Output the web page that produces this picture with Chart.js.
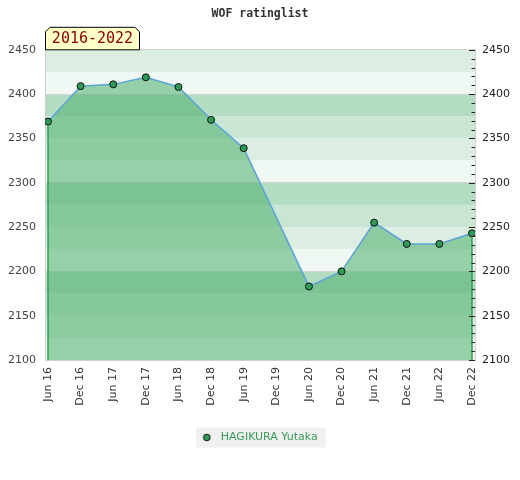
<!DOCTYPE html>
<html lang="en">
<head>
  <meta charset="UTF-8">
  <title>WOF ratinglist</title>
  <style>
    body {
      margin: 0;
      padding: 0;
      background-color: #fff;
    }

    .container {
      width: 520px;
      height: 480px;
    }
  </style>
  <script src="https://cdn.jsdelivr.net/npm/chart.js"></script>
</head>
<body>
  <div class="container">
    <canvas id="ratingChart"></canvas>
  </div>

  <script>
    // Rating list periods and values (Dec 19 has no rating)
    const periods = ['Jun 16', 'Dec 16', 'Jun 17', 'Dec 17', 'Jun 18', 'Dec 18', 'Jun 19',
                     'Dec 19', 'Jun 20', 'Dec 20', 'Jun 21', 'Dec 21', 'Jun 22', 'Dec 22'];
    const ratings = [2369, 2409, 2411, 2419, 2408, 2371, 2339,
                     null, 2183, 2200, 2255, 2231, 2231, 2243];
    const ratingRange = [2100, 2450];
    const playerName = 'HAGIKURA Yutaka';
    const periodLabel = '2016-2022';
    const chartTitle = 'WOF ratinglist';

    const bandColors = ['#b3dcc2', '#c8e6d3', '#dbeee1', '#eff8f2'];
    const tickFont = { family: 'DejaVu Sans', size: 11 };

    // small round marker for the legend (sits at the left of a 13px box)
    const legendDot = document.createElement('canvas');
    legendDot.width = 13;
    legendDot.height = 9;
    const dctx = legendDot.getContext('2d');
    dctx.beginPath();
    dctx.arc(4.5, 4.5, 3.3, 0, Math.PI * 2);
    dctx.fillStyle = '#2e9a58';
    dctx.fill();
    dctx.lineWidth = 1;
    dctx.strokeStyle = '#111';
    dctx.stroke();

    // striped background, legend box
    const backdrop = {
      id: 'backdrop',
      beforeDraw(chart) {
        const { ctx, chartArea: a, scales: { y } } = chart;
        ctx.save();
        for (let v = y.max; v > y.min; v -= 25) {
          const top = y.getPixelForValue(v);
          const bottom = y.getPixelForValue(v - 25);
          ctx.fillStyle = bandColors[(4 - (v / 25) % 4) % 4];
          ctx.fillRect(a.left, top, a.right - a.left, bottom - top);
        }
        const hb = chart.legend && chart.legend.legendHitBoxes[0];
        if (hb) {
          ctx.fillStyle = '#f0f0f0';
          ctx.fillRect(hb.left - 6, hb.top - 4.5, hb.width + 14, 20);
        }
        ctx.restore();
      },
      afterDatasetsDraw(chart) {
        const { ctx, chartArea: a, scales: { y } } = chart;
        const meta = chart.getDatasetMeta(0);
        const pts = meta.data.filter((p, i) => ratings[i] !== null);
        ctx.save();
        // vertical edges of the filled area
        ctx.strokeStyle = '#2ea050';
        ctx.lineWidth = 1.5;
        [pts[0], pts[pts.length - 1]].forEach(p => {
          ctx.beginPath();
          ctx.moveTo(p.x, p.y + 4);
          ctx.lineTo(p.x, a.bottom);
          ctx.stroke();
        });
        // minor ticks on the right side
        ctx.strokeStyle = '#222';
        ctx.lineWidth = 1;
        for (let v = y.min; v <= y.max; v += 10) {
          const py = Math.round(y.getPixelForValue(v)) + 0.5;
          const len = v % 50 === 0 ? 6 : 3.5;
          ctx.beginPath();
          ctx.moveTo(a.right - len, py);
          ctx.lineTo(a.right, py);
          ctx.stroke();
        }
        ctx.restore();
      },
      afterDraw(chart) {
        const { ctx, chartArea: a } = chart;
        const l = a.left, r = a.left + 95, t = a.top - 23, b = a.top, c = 5;
        ctx.save();
        ctx.beginPath();
        ctx.moveTo(l + 0.5, b);
        ctx.lineTo(l + 0.5, t + c);
        ctx.lineTo(l + c, t + 0.5);
        ctx.lineTo(r - c, t + 0.5);
        ctx.lineTo(r - 0.5, t + c);
        ctx.lineTo(r - 0.5, b);
        ctx.closePath();
        ctx.fillStyle = '#ffffc8';
        ctx.fill();
        ctx.strokeStyle = '#000';
        ctx.lineWidth = 1;
        ctx.stroke();
        ctx.fillStyle = '#8b0000';
        ctx.font = '15px "DejaVu Sans Mono"';
        ctx.textAlign = 'center';
        ctx.textBaseline = 'middle';
        ctx.fillText(periodLabel, (l + r) / 2, (t + b) / 2 + 1);
        ctx.restore();
      }
    };

    const ctx = document.getElementById('ratingChart').getContext('2d');

    new Chart(ctx, {
      type: 'line',
      data: {
        datasets: [{
          label: playerName,
          data: ratings.map((v, i) => ({ x: i, y: v })),
          spanGaps: true,
          tension: 0,
          borderColor: '#5ba3d9',
          borderWidth: 1.5,
          fill: 'start',
          backgroundColor: 'rgba(76, 175, 110, 0.55)',
          pointRadius: 3.5,
          pointBackgroundColor: '#2e9a58',
          pointBorderColor: '#111',
          pointBorderWidth: 1
        }]
      },
      options: {
        responsive: true,
        maintainAspectRatio: false,
        animation: false,
        layout: { padding: { left: 0, right: 0, top: 0, bottom: 27 } },
        scales: {
          x: {
            type: 'linear',
            min: -0.092,
            max: periods.length - 1 + 0.092,
            afterBuildTicks: s => { s.ticks = periods.map((_, i) => ({ value: i })); },
            ticks: {
              autoSkip: false,
              minRotation: 90,
              maxRotation: 90,
              padding: 7,
              color: '#333',
              font: tickFont,
              callback: v => periods[v]
            },
            grid: { display: false, drawTicks: false },
            border: { color: '#d0d0d0' },
            afterFit: s => { s.height = 62; }
          },
          y: {
            position: 'left',
            min: ratingRange[0],
            max: ratingRange[1],
            ticks: { stepSize: 50, padding: 9, color: '#444', font: tickFont, callback: v => String(v) },
            grid: {
              drawTicks: false,
              color: c => (c.tick.value % 100 === 0 || c.tick.value === ratingRange[1]) ? '#d4d4d4' : 'transparent'
            },
            border: { color: '#d0d0d0' },
            afterFit: s => { s.width = 45; }
          },
          y2: {
            position: 'right',
            min: ratingRange[0],
            max: ratingRange[1],
            ticks: { stepSize: 50, padding: 7, color: '#222', font: tickFont, callback: v => String(v) },
            grid: { display: false, drawTicks: false },
            border: { color: '#d0d0d0' },
            afterFit: s => { s.width = 45; }
          }
        },
        plugins: {
          title: {
            display: true,
            text: chartTitle,
            color: '#333',
            font: { family: 'DejaVu Sans Mono', size: 11.5, weight: 'bold' },
            padding: { top: 7, bottom: 29 }
          },
          legend: {
            display: true,
            position: 'bottom',
            labels: {
              usePointStyle: true,
              pointStyleWidth: 13,
              color: '#3a9a5a',
              font: tickFont,
              generateLabels: () => [{
                text: playerName,
                pointStyle: legendDot,
                fontColor: '#3a9a5a',
                fillStyle: '#2e9a58',
                strokeStyle: '#111',
                lineWidth: 1,
                hidden: false,
                datasetIndex: 0
              }]
            }
          },
          tooltip: { enabled: false }
        }
      },
      plugins: [backdrop]
    });
  </script>
</body>
</html>
